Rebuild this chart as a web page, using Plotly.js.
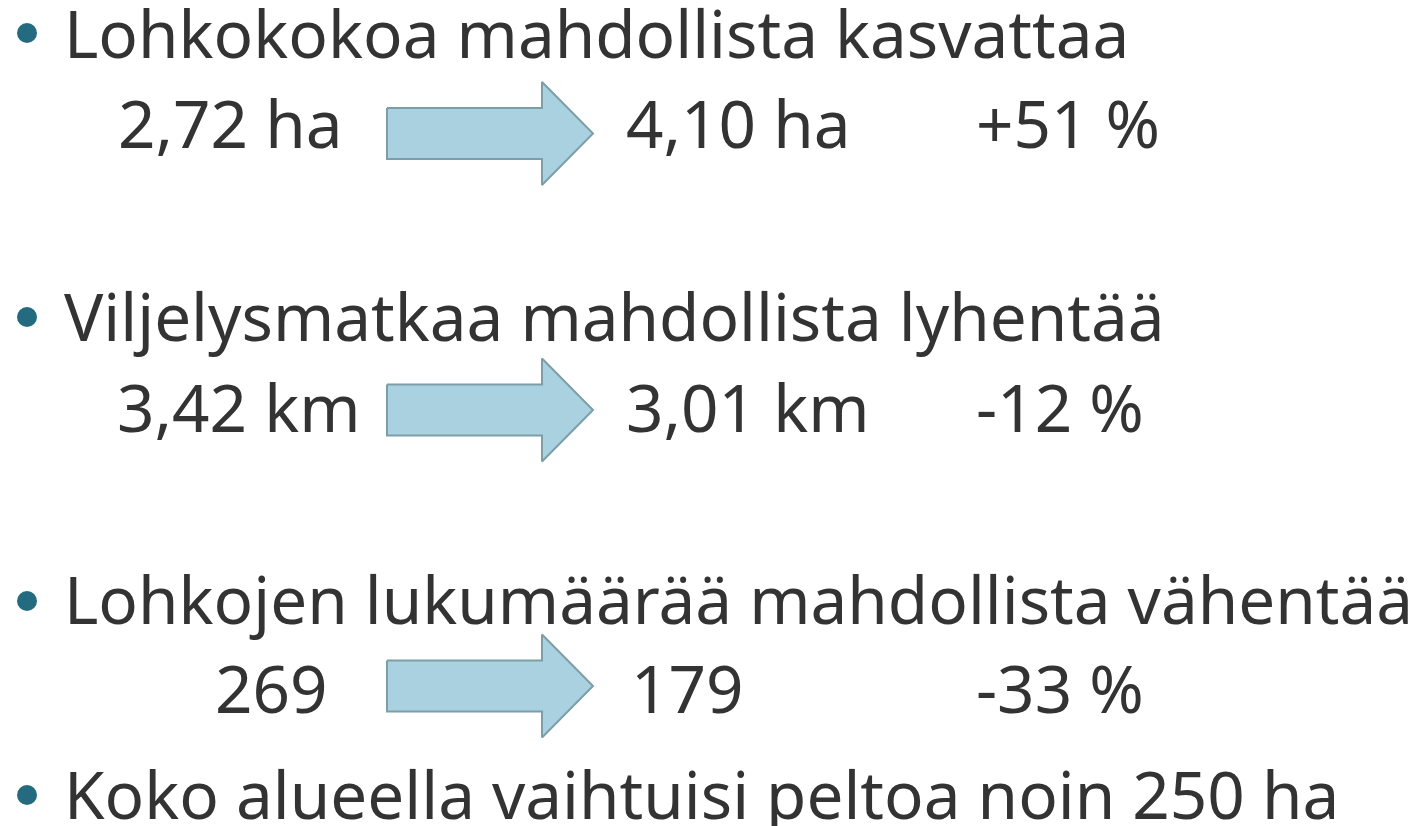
<!DOCTYPE html>
<html><head><meta charset="utf-8">
<script src="https://cdn.plot.ly/plotly-3.0.1.min.js"></script>
<style>html,body{margin:0;padding:0;background:#fff;}#chart{width:1420px;height:826px;}</style>
</head><body><div id="chart"></div>
<script>
// ---- data ----
const headings = [
  "Lohkokokoa mahdollista kasvattaa",
  "Viljelysmatkaa mahdollista lyhentää",
  "Lohkojen lukumäärää mahdollista vähentää",
  "Koko alueella vaihtuisi peltoa noin 250 ha"
];
const beforeValues = ["2,72 ha", "3,42 km", "269"];
const afterValues  = ["4,10 ha", "3,01 km", "179"];
const changeValues = ["+51 %", "-12 %", "-33 %"];

// ---- layout constants ----
const W = 1420, H = 826;
const FONT = "Noto Sans, sans-serif";
const FS = 65.6;
const TXT = "#333333";
const headingTextY = [31.5, 315, 598, 793.5];
const bulletY = [33, 317, 601, 795];
const rowTextY = [122, 406.5, 687];
const arrowY = [133.5, 410, 686];
const beforeRight = [345, 363, 330];
const afterX = [624, 624, 629];
const changeX = 974;
const bulletX = 27, textX = 62;
const arrowX0 = 387, arrowNeck = 542, arrowTip = 593, bodyHalf = 25.5, headHalf = 51.5;

const traces = [];
// bullets
traces.push({
  type: "scatter", mode: "markers",
  x: bulletY.map(() => bulletX), y: bulletY,
  marker: {size: 20, color: "#246b80"},
  hoverinfo: "skip", showlegend: false
});
// arrows
arrowY.forEach(yc => {
  traces.push({
    type: "scatter", mode: "lines", fill: "toself",
    x: [arrowX0, arrowNeck, arrowNeck, arrowTip, arrowNeck, arrowNeck, arrowX0, arrowX0],
    y: [yc - bodyHalf, yc - bodyHalf, yc - headHalf, yc, yc + headHalf, yc + bodyHalf, yc + bodyHalf, yc - bodyHalf],
    fillcolor: "#aad1df", line: {color: "#7c9ea8", width: 2},
    hoverinfo: "skip", showlegend: false
  });
});

const annotations = [];
headings.forEach((t, i) => {
  const a = {
    x: textX, y: headingTextY[i], xref: "x", yref: "y", text: t, showarrow: false,
    xanchor: "left", yanchor: "middle", font: {family: FONT, size: FS, color: TXT}
  };
  if (i === 0) { a.height = 60; a.valign = "middle"; }
  annotations.push(a);
});
rowTextY.forEach((y, i) => {
  annotations.push({x: beforeRight[i], y: y, xref: "x", yref: "y", text: beforeValues[i], showarrow: false,
    xanchor: "right", yanchor: "middle", font: {family: FONT, size: FS, color: TXT}});
  annotations.push({x: afterX[i], y: y, xref: "x", yref: "y", text: afterValues[i], showarrow: false,
    xanchor: "left", yanchor: "middle", font: {family: FONT, size: FS, color: TXT}});
  annotations.push({x: changeX, y: y, xref: "x", yref: "y", text: changeValues[i], showarrow: false,
    xanchor: "left", yanchor: "middle", font: {family: FONT, size: FS, color: TXT}});
});

const layout = {
  width: W, height: H,
  margin: {l: 0, r: 0, t: 0, b: 0, pad: 0},
  paper_bgcolor: "#ffffff", plot_bgcolor: "#ffffff",
  xaxis: {range: [0, W], visible: false, fixedrange: true},
  yaxis: {range: [H, 0], visible: false, fixedrange: true},
  annotations: annotations,
  showlegend: false
};
Plotly.newPlot("chart", traces, layout, {staticPlot: true});
</script>
</body></html>
